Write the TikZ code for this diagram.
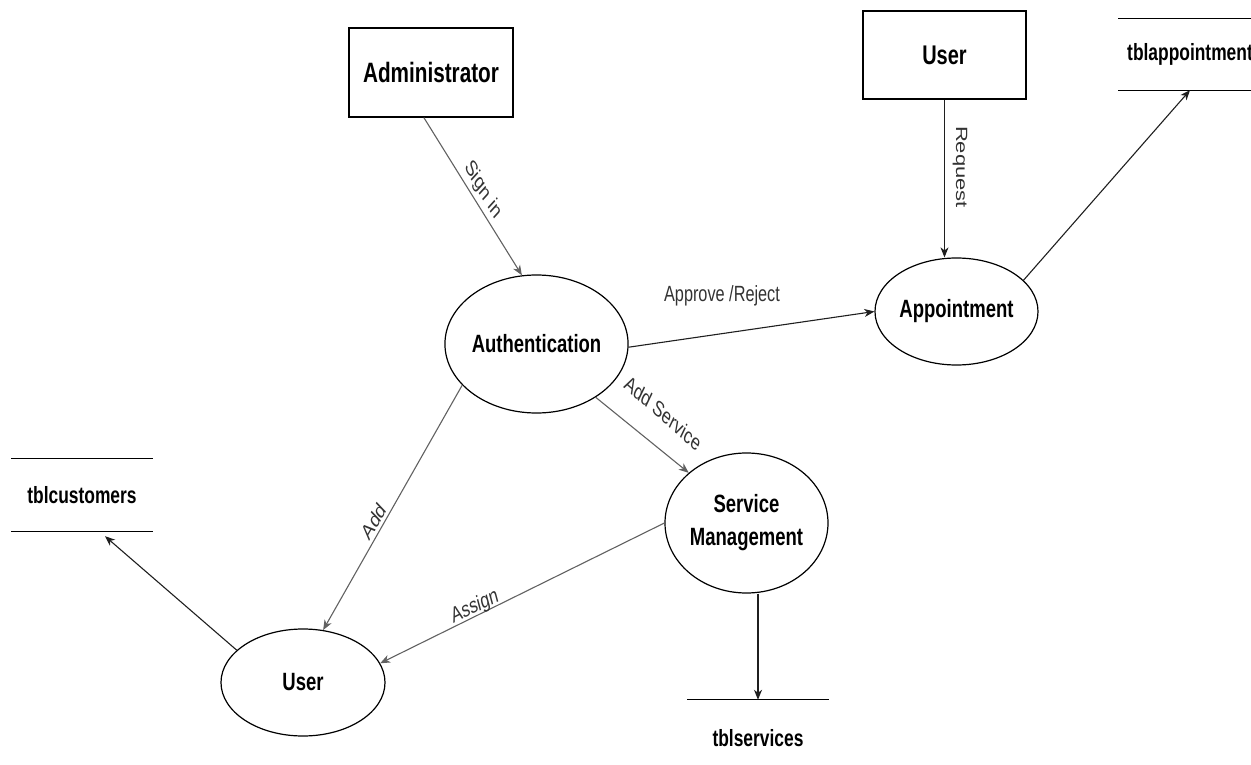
\documentclass[tikz,border=0pt]{standalone}
\usepackage{fontspec}
\usepackage{graphicx}
\setmainfont{Liberation Sans}
\newfontfamily\nb[FakeStretch=0.74]{Liberation Sans}
\usetikzlibrary{arrows.meta,shapes.geometric}

% flow label: rotated, then squeezed horizontally like the rest of the drawing
\newcommand\flowlab[2]{\scalebox{0.74}[1]{\rotatebox{#1}{#2}}}

\tikzset{
  proc/.style={ellipse, draw=black, line width=1.2pt, inner sep=0pt, align=center,
    font=\nb\bfseries\fontsize{25}{33}\selectfont},
  entity/.style={rectangle, draw=black, line width=1.2pt, inner sep=0pt},
  store/.style={inner sep=0pt, font=\nb\bfseries\fontsize{23.5}{28}\selectfont},
  storeline/.style={line width=1.3pt, line cap=rect},
  flow/.style={-{Stealth[length=10pt,width=8pt,inset=3pt]}, line width=1.1pt, draw=black!88},
  softflow/.style={flow, draw=black!62},
  lbl/.style={inner sep=0pt, text=black!80, font=\fontsize{22}{26}\selectfont},
}

\begin{document}
\begin{tikzpicture}[x=1pt,y=-1pt]
\useasboundingbox (0,0) rectangle (1251,765);

% external entities
\node[entity, minimum width=164pt, minimum height=89pt,
      font=\nb\bfseries\fontsize{28}{32}\selectfont] (admin) at (431,72.5) {Administrator};
\node[entity, minimum width=163pt, minimum height=88pt,
      font=\nb\bfseries\fontsize{27}{32}\selectfont] (ubox) at (944.5,55) {User};

% processes
\node[proc, minimum width=164pt, minimum height=138pt] (auth) at (536.5,344) {Authentication};
\node[proc, minimum width=163pt, minimum height=107pt] (appt) at (956.5,311.5) {Appointment};
\node[proc, minimum width=163pt, minimum height=140pt] (svc) at (746.5,523) {Service\\Management};
\node[proc, minimum width=164pt, minimum height=107pt] (user) at (303,682.5) {User};

% data stores
\node[store, minimum width=142pt, minimum height=71pt] (tappt) at (1190,54.5) {tblappointment};
\draw[storeline] (tappt.north west) -- (tappt.north east)
                 (tappt.south west) -- (tappt.south east);
\node[store, minimum width=140pt, minimum height=72pt] (tcust) at (82,495) {tblcustomers};
\draw[storeline] (tcust.north west) -- (tcust.north east)
                 (tcust.south west) -- (tcust.south east);
\node[store, minimum width=140pt, minimum height=76pt] (tsvc) at (758,738) {tblservices};
\draw[storeline] (tsvc.north west) -- (tsvc.north east);

% data flows
\draw[softflow] (admin.261) -- (auth.102);
\draw[flow] (ubox.south) -- (appt.north -| ubox.south);
\draw[flow] (auth.-2) -- (appt.west);
\draw[flow] (appt.25) -- (tappt.south);
\draw[softflow] (auth.-42) -- (svc.139);
\draw[softflow] (auth.209) -- (user.69);
\draw[softflow] (svc.west) -- (user.14);
\draw[flow] (user.154) -- ([xshift=23pt,yshift=-5pt]tcust.south);
\draw[flow] (svc.south -| tsvc.north) -- (tsvc.north);

% flow labels
\node[lbl] (lsign) at (483,190) {\flowlab{-51}{Sign in}};
\node[lbl] (lreq) at (960,167) {\flowlab{-90}{Request}};
\node[lbl] (lappr) at (722,296) {\flowlab{0}{Approve /Reject}};
\node[lbl] (ladds) at (663,413) {\flowlab{-33}{Add Service}};
\node[lbl] (ladd) at (374,521) {\flowlab{52}{Add}};
\node[lbl] (lassign) at (475,607) {\flowlab{20}{Assign}};
\end{tikzpicture}
\end{document}
